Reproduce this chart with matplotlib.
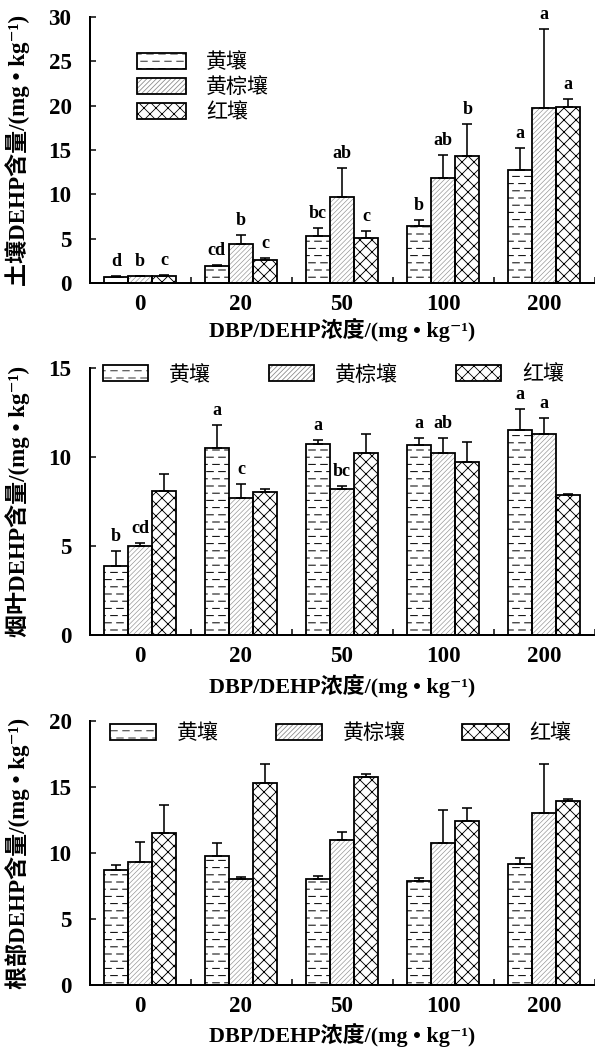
import warnings
import numpy as np
import matplotlib
matplotlib.use('Agg')
import matplotlib.pyplot as plt
import matplotlib.hatch as mhatch
from matplotlib.patches import Patch
from matplotlib.path import Path
from matplotlib.legend_handler import HandlerTuple

warnings.filterwarnings('ignore')

# ---------------- data ----------------
categories = ['0', '20', '50', '100', '200']
series_names = ['黄壤', '黄棕壤', '红壤']

# soil DEHP
soil_yellow = [0.72, 1.9, 5.3, 6.4, 12.8]
soil_yellow_err = [0.06, 0.15, 0.85, 0.75, 2.45]
soil_ybrown = [0.76, 4.4, 9.75, 11.8, 19.7]
soil_ybrown_err = [0.05, 1.0, 3.25, 2.6, 8.9]
soil_red = [0.8, 2.6, 5.05, 14.35, 19.9]
soil_red_err = [0.08, 0.2, 0.8, 3.55, 0.8]
soil_let_yellow = ['d', 'cd', 'bc', 'b', 'a']
soil_let_ybrown = ['b', 'b', 'ab', 'ab', 'a']
soil_let_red = ['c', 'c', 'c', 'b', 'a']

# leaf DEHP
leaf_yellow = [3.88, 10.5, 10.75, 10.7, 11.5]
leaf_yellow_err = [0.85, 1.3, 0.2, 0.36, 1.2]
leaf_ybrown = [5.0, 7.7, 8.2, 10.2, 11.3]
leaf_ybrown_err = [0.18, 0.78, 0.15, 0.88, 0.87]
leaf_red = [8.07, 8.03, 10.25, 9.7, 7.84]
leaf_red_err = [0.97, 0.17, 1.05, 1.13, 0.1]
leaf_let_yellow = ['b', 'a', 'a', 'a', 'a']
leaf_let_ybrown = ['cd', 'c', 'bc', 'ab', 'a']
leaf_let_red = ['', '', '', '', '']

# root DEHP
root_yellow = [8.7, 9.75, 8.03, 7.9, 9.17]
root_yellow_err = [0.38, 0.98, 0.25, 0.2, 0.48]
root_ybrown = [9.35, 8.03, 10.96, 10.78, 13.03]
root_ybrown_err = [1.5, 0.13, 0.63, 2.45, 3.7]
root_red = [11.55, 15.28, 15.76, 12.45, 13.94]
root_red_err = [2.1, 1.5, 0.22, 0.96, 0.18]

ylabels = ['土壤DEHP含量/(mg • kg⁻¹)', '烟叶DEHP含量/(mg • kg⁻¹)', '根部DEHP含量/(mg • kg⁻¹)']
xlabel = 'DBP/DEHP浓度/(mg • kg⁻¹)'
ylims = [30, 15, 20]
ysteps = [5, 5, 5]


# ------------- custom dashed horizontal hatch -------------
class DashedHorizontalHatch(mhatch.HatchPatternBase):
    def __init__(self, hatch, density):
        n = hatch.count('-')
        segs = []
        if n:
            rows = 10 * n
            k = 6
            period = 1.0 / k
            dash = 0.55 * period
            for r in range(rows):
                y = (r + 0.5) / rows
                off = (period - dash) / 2 + (period / 2 if r % 2 else 0.0)
                for j in range(k):
                    x0 = j * period + off
                    x1 = x0 + dash
                    if x1 <= 1.0:
                        segs.append((x0, x1, y))
                    elif x0 >= 1.0:
                        segs.append((x0 - 1, x1 - 1, y))
                    else:
                        segs.append((x0, 1.0, y))
                        segs.append((0.0, x1 - 1.0, y))
        self.segs = segs
        self.num_lines = len(segs)
        self.num_vertices = 2 * len(segs)

    def set_vertices_and_codes(self, vertices, codes):
        for i, (x0, x1, y) in enumerate(self.segs):
            vertices[2 * i] = (x0, y)
            vertices[2 * i + 1] = (x1, y)
            codes[2 * i] = Path.MOVETO
            codes[2 * i + 1] = Path.LINETO


mhatch._hatch_types[0] = DashedHorizontalHatch

# ---------------- style ----------------
DPI = 72
plt.rcParams['font.family'] = ['Liberation Serif', 'Noto Sans CJK SC', 'DejaVu Serif']
plt.rcParams['hatch.linewidth'] = 0.8
plt.rcParams['axes.unicode_minus'] = False

fig = plt.figure(figsize=(595 / DPI, 1048 / DPI), dpi=DPI)

left = 89.5 / 595
width = 505 / 595
panel_boxes = [
    (1 - 283 / 1048, 266 / 1048),
    (1 - 635 / 1048, 267 / 1048),
    (1 - 985 / 1048, 264 / 1048),
]

data = [
    ([soil_yellow, soil_ybrown, soil_red], [soil_yellow_err, soil_ybrown_err, soil_red_err],
     [soil_let_yellow, soil_let_ybrown, soil_let_red]),
    ([leaf_yellow, leaf_ybrown, leaf_red], [leaf_yellow_err, leaf_ybrown_err, leaf_red_err],
     [leaf_let_yellow, leaf_let_ybrown, leaf_let_red]),
    ([root_yellow, root_ybrown, root_red], [root_yellow_err, root_ybrown_err, root_red_err],
     None),
]

hatches = ['-', '/////', 'xx']
hatch_lws = [1.0, 0.6, 0.9]
hatch_colors = ['black', '#8a8a8a', 'black']
bar_w = 0.24
offsets = [-bar_w, 0.0, bar_w]
x = np.arange(len(categories))

xlabel_y = [-0.178, -0.191, -0.189]


def set_hlw(patches, lw):
    for pt in patches:
        try:
            pt.set_hatch_linewidth(lw)
        except Exception:
            pass


for p, ((bottom, height), (means, errs, letters)) in enumerate(zip(panel_boxes, data)):
    ax = fig.add_axes([left, bottom, width, height])
    for s in range(3):
        # hatch fill (hatch colour follows the edge colour)
        with plt.rc_context({'hatch.linewidth': hatch_lws[s]}):
            bars = ax.bar(x + offsets[s], means[s], bar_w, color='white',
                          edgecolor=hatch_colors[s], linewidth=0, hatch=hatches[s],
                          zorder=2, label=series_names[s])
        set_hlw(bars, hatch_lws[s])
        # black outline
        ax.bar(x + offsets[s], means[s], bar_w, fill=False, edgecolor='black',
               linewidth=1.8, zorder=2.5)
        ax.errorbar(x + offsets[s], means[s], yerr=[np.zeros(len(x)), errs[s]], fmt='none',
                    ecolor='black', elinewidth=1.6, capsize=5, capthick=1.6, zorder=3)
        if letters is not None:
            for xi, m, e, lab in zip(x + offsets[s], means[s], errs[s], letters[s]):
                if lab:
                    ax.annotate(lab, (xi, m + e), xytext=(0, 10), textcoords='offset points',
                                ha='center', va='baseline', fontsize=18, fontweight='bold')

    ax.set_xlim(-0.5, 4.5)
    ax.set_ylim(0, ylims[p])
    ax.set_yticks(np.arange(0, ylims[p] + 0.1, ysteps[p]))
    ax.set_xticks(x)
    ax.set_xticklabels(categories)
    ax.set_xticks(np.arange(0.5, 4.6, 1.0), minor=True)
    ax.tick_params(axis='x', which='major', length=0, pad=11, labelsize=23)
    ax.tick_params(axis='x', which='minor', direction='in', length=6, width=1.5)
    ax.tick_params(axis='y', which='major', direction='in', length=6, width=1.5, pad=18,
                   labelsize=23)
    for lab in ax.get_xticklabels() + ax.get_yticklabels():
        lab.set_fontweight('bold')
    for sp in ['top', 'right']:
        ax.spines[sp].set_visible(False)
    for sp in ['left', 'bottom']:
        ax.spines[sp].set_linewidth(2.0)

    ax.set_ylabel(ylabels[p], fontsize=23, fontweight='bold')
    ax.yaxis.set_label_coords(-0.1416, 0.5)
    ax.yaxis.label.set_va('center')
    ax.set_xlabel(xlabel, fontsize=22, fontweight='bold')
    ax.xaxis.set_label_coords(0.5, xlabel_y[p])
    ax.xaxis.label.set_va('center')

    handles = []
    for h, hl, hc in zip(hatches, hatch_lws, hatch_colors):
        with plt.rc_context({'hatch.linewidth': hl}):
            hp = Patch(facecolor='white', edgecolor=hc, linewidth=0, hatch=h)
        set_hlw([hp], hl)
        outline = Patch(fill=False, edgecolor='black', linewidth=1.8)
        handles.append((hp, outline))
    hmap = {tuple: HandlerTuple(ndivide=1, pad=0)}
    if p == 0:
        ax.legend(handles, series_names, loc='upper left', bbox_to_anchor=(0.094, 0.865),
                  frameon=False, fontsize=21, handlelength=2.35, handleheight=0.8,
                  handletextpad=0.95, labelspacing=0.22, borderpad=0, borderaxespad=0,
                  handler_map=hmap)
    elif p == 1:
        ax.legend(handles, series_names, loc='upper left', bbox_to_anchor=(0.027, 1.01),
                  ncol=3, frameon=False, fontsize=21, handlelength=2.15, handleheight=0.8,
                  handletextpad=1.0, columnspacing=2.75, borderpad=0, borderaxespad=0,
                  handler_map=hmap)
    else:
        ax.legend(handles, series_names, loc='upper left', bbox_to_anchor=(0.04, 0.99),
                  ncol=3, frameon=False, fontsize=21, handlelength=2.2, handleheight=0.8,
                  handletextpad=1.0, columnspacing=2.7, borderpad=0, borderaxespad=0,
                  handler_map=hmap)

fig.savefig('out.png', dpi=DPI)
